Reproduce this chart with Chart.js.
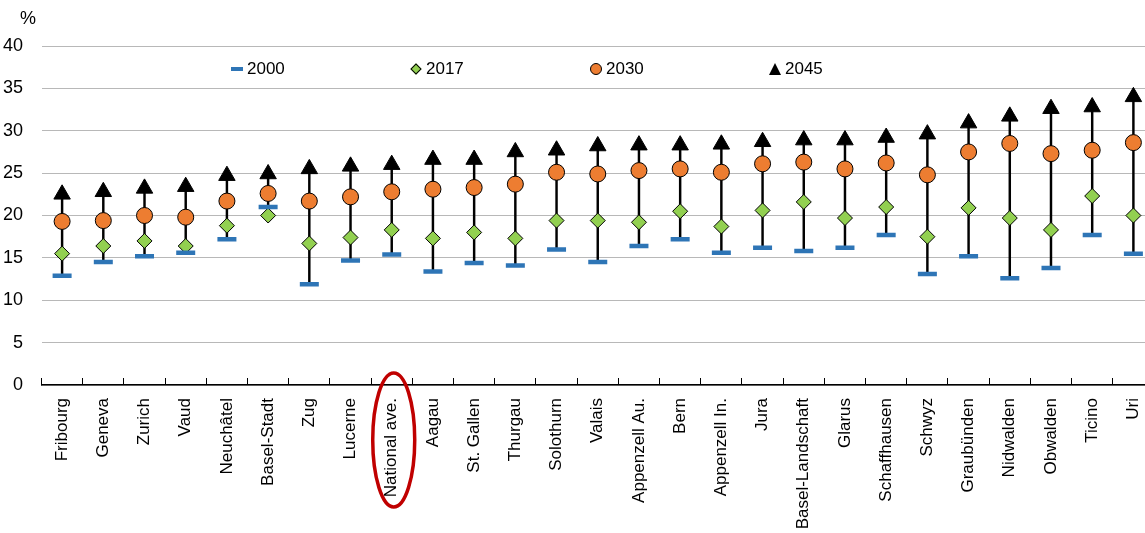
<!DOCTYPE html>
<html>
<head>
<meta charset="utf-8">
<title>Cantons</title>
<script src="https://cdn.jsdelivr.net/npm/chart.js@4.4.0/dist/chart.umd.min.js"></script>
<style>
  html, body { margin: 0; padding: 0; background: #fff; overflow: hidden; }
  #wrap { position: relative; width: 1145px; height: 533px; overflow: hidden; }
  #myChart { position: absolute; left: 0; top: 0; }
  .txt { position: absolute; font-family: 'Liberation Sans', Arial, sans-serif; font-size: 17px; line-height: 20px; color: #000; white-space: nowrap; }
  .mk { position: absolute; box-sizing: border-box; }
</style>
</head>
<body>
<div id="wrap">
  <canvas id="myChart" width="1168" height="533"></canvas>
  <div class="txt" style="left:20px; top:8px; font-size:18px;">%</div>
  <div id="legend"></div>
</div>
<script>
const FONT = "'Liberation Sans', Arial, sans-serif";

const cantons = ['Fribourg', 'Geneva', 'Zurich', 'Vaud', 'Neuchâtel', 'Basel-Stadt', 'Zug', 'Lucerne',
  'National ave.', 'Aagau', 'St. Gallen', 'Thurgau', 'Solothurn', 'Valais', 'Appenzell Au.', 'Bern',
  'Appenzell In.', 'Jura', 'Basel-Landschaft', 'Glarus', 'Schaffhausen', 'Schwyz', 'Graubünden',
  'Nidwalden', 'Obwalden', 'Ticino', 'Uri'];

const yr2000 = [12.9, 14.5, 15.2, 15.6, 17.2, 21.0, 11.9, 14.7, 15.4, 13.4, 14.4, 14.1, 16.0, 14.5,
  16.4, 17.2, 15.6, 16.2, 15.8, 16.2, 17.7, 13.1, 15.2, 12.6, 13.8, 17.7, 15.5];
const yr2017 = [15.5, 16.4, 17.0, 16.4, 18.8, 20.0, 16.7, 17.4, 18.3, 17.3, 18.0, 17.3, 19.4, 19.4,
  19.2, 20.5, 18.7, 20.6, 21.6, 19.7, 21.0, 17.5, 20.9, 19.7, 18.3, 22.3, 20.0];
const yr2030 = [19.3, 19.4, 20.0, 19.8, 21.7, 22.6, 21.7, 22.2, 22.8, 23.1, 23.3, 23.7, 25.1, 24.9,
  25.3, 25.5, 25.1, 26.1, 26.3, 25.5, 26.2, 24.8, 27.5, 28.5, 27.3, 27.7, 28.6];
const yr2045 = [22.5, 22.8, 23.2, 23.4, 24.7, 24.9, 25.5, 25.8, 26.0, 26.6, 26.6, 27.5, 27.7, 28.2,
  28.3, 28.3, 28.4, 28.7, 28.9, 28.9, 29.2, 29.6, 30.9, 31.7, 32.6, 32.8, 34.0];

const yTicks = [0, 5, 10, 15, 20, 25, 30, 35, 40];

// whisker from lowest to highest value of each canton
const ranges = cantons.map((c, i) => {
  const v = [yr2000[i], yr2017[i], yr2030[i], yr2045[i]];
  return [Math.min(...v), Math.max(...v)];
});

const series = [
  { label: '2000', data: yr2000, pointStyle: 'line', radius: 9.5, bg: '#2e75b6', border: '#2e75b6', bw: 4.5, order: 1 },
  { label: '2017', data: yr2017, pointStyle: 'rectRot', radius: 7.5, bg: '#92d050', border: '#000', bw: 1, order: 2 },
  { label: '2030', data: yr2030, pointStyle: 'circle', radius: 8, bg: '#ed7d31', border: '#000', bw: 1, order: 3 },
  { label: '2045', data: yr2045, pointStyle: 'triangle', radius: 9.5, bg: '#000', border: '#000', bw: 1, order: 4 },
];

// html legend
const legendPos = [237, 416, 596, 775];
const legend = document.getElementById('legend');
series.forEach((s, i) => {
  const cx = legendPos[i];
  const mk = document.createElement('div');
  mk.className = 'mk';
  if (s.pointStyle === 'line') {
    Object.assign(mk.style, { left: (cx - 6) + 'px', top: '67px', width: '12px', height: '3.5px', background: s.bg });
  } else if (s.pointStyle === 'rectRot') {
    Object.assign(mk.style, { left: (cx - 4) + 'px', top: '65px', width: '8px', height: '8px', background: s.bg, border: '1px solid #000', transform: 'rotate(45deg)' });
  } else if (s.pointStyle === 'circle') {
    Object.assign(mk.style, { left: (cx - 6) + 'px', top: '63px', width: '12px', height: '12px', background: s.bg, border: '1px solid #000', borderRadius: '50%' });
  } else {
    Object.assign(mk.style, { left: (cx - 6) + 'px', top: '63px', width: '0', height: '0', borderLeft: '6px solid transparent', borderRight: '6px solid transparent', borderBottom: '12px solid #000' });
  }
  legend.appendChild(mk);
  const t = document.createElement('div');
  t.className = 'txt';
  t.style.left = (cx + 10) + 'px';
  t.style.top = '59px';
  t.textContent = s.label;
  legend.appendChild(t);
});

const ovalPlugin = {
  id: 'oval',
  afterDraw(chart) {
    const { ctx, scales } = chart;
    const x = scales.x.getPixelForValue(cantons.indexOf('National ave.')) + 2;
    const y = chart.chartArea.bottom + 55;
    ctx.save();
    ctx.beginPath();
    ctx.ellipse(x, y, 21, 67, 0, 0, Math.PI * 2);
    ctx.strokeStyle = '#c00000';
    ctx.lineWidth = 3.5;
    ctx.stroke();
    ctx.restore();
  }
};

const ctx = document.getElementById('myChart').getContext('2d');
const myChart = new Chart(ctx, {
  type: 'bar',
  data: {
    labels: cantons,
    datasets: [
      ...series.map((s) => ({
        type: 'line',
        label: s.label,
        data: s.data,
        showLine: false,
        pointStyle: s.pointStyle,
        pointRadius: s.radius,
        pointBackgroundColor: s.bg,
        pointBorderColor: s.border,
        pointBorderWidth: s.bw,
        order: s.order,
      })),
      {
        type: 'bar',
        label: 'range',
        data: ranges,
        backgroundColor: '#000',
        barThickness: 1.8,
        order: 10,
      },
    ],
  },
  options: {
    responsive: false,
    animation: false,
    layout: { padding: { top: 46, left: 0, right: 0, bottom: 0 } },
    plugins: {
      legend: { display: false },
      tooltip: { enabled: false },
    },
    scales: {
      x: {
        grid: { display: true, drawOnChartArea: false, drawTicks: true, tickLength: -7, color: '#000', tickColor: '#000', tickWidth: 1 },
        border: { display: true, color: '#000', width: 1.5 },
        ticks: {
          autoSkip: false,
          maxRotation: 90,
          minRotation: 90,
          padding: 20,
          color: '#000',
          font: { family: FONT, size: 17 },
        },
        afterFit(scale) {
          scale.height = 148;
          scale.paddingLeft = 0;
          scale.paddingRight = 0;
        },
      },
      y: {
        min: 0,
        max: 40,
        afterBuildTicks(scale) { scale.ticks = yTicks.map((v) => ({ value: v })); },
        grid: { color: '#b8b8b8', lineWidth: 1, drawTicks: false },
        border: { display: false },
        ticks: {
          padding: 18.5,
          color: '#000',
          font: { family: FONT, size: 18 },
        },
        afterFit(scale) { scale.width = 41.5; },
      },
    },
  },
  plugins: [ovalPlugin],
});
</script>
</body>
</html>
